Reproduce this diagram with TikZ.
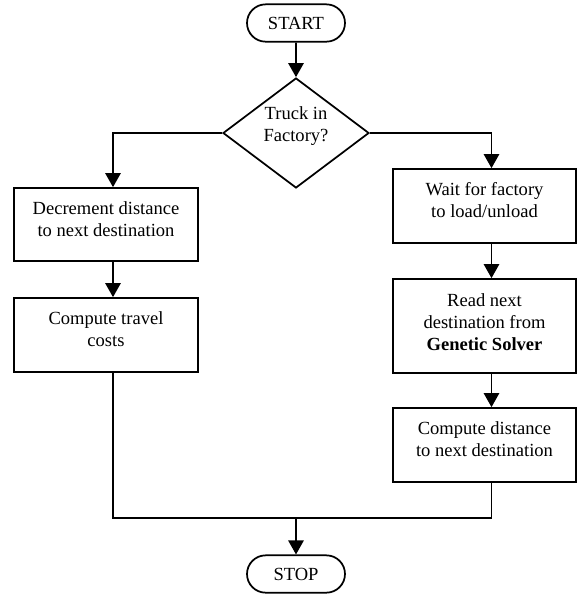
\documentclass[tikz,border=0pt]{standalone}
\usepackage{fontspec}
\setmainfont{Liberation Serif}
\usetikzlibrary{shapes.geometric,shapes.misc,arrows.meta,calc}
\begin{document}
\begin{tikzpicture}[x=0.75pt,y=-0.75pt,
  font=\fontsize{13.9}{16.5}\selectfont,
  lw/.style={line width=1.3pt},
  box/.style={draw, lw, rectangle, minimum width=138pt, inner sep=0pt},
  term/.style={draw, lw, rounded rectangle, minimum width=73.5pt, minimum height=28pt, inner sep=0pt},
  decis/.style={draw, lw, diamond, aspect=1.327, minimum width=109.5pt, minimum height=82.5pt, inner sep=0pt},
  txt/.style={align=center, inner sep=0pt, anchor=north},
  conn/.style={lw, -{Triangle[length=10.5pt,width=11.5pt]}},
  plain/.style={lw}]
\useasboundingbox (0,0) rectangle (578,594);

\node[term] (START) at (296,23) {START};
\node[decis] (D) at (296,133) {};
\node[align=center, inner sep=0pt] (Dt) at (296,126) {Truck in\\Factory?};

\node[box, minimum height=54.75pt] (L1) at (106,224.5) {};
\node[txt] (L1t) at ($(L1.north)+(0,14)$) {Decrement distance\\to next destination};
\node[box, minimum height=55.5pt] (L2) at (106,335) {};
\node[txt] (L2t) at ($(L2.north)+(0,14)$) {Compute travel\\costs};

\node[box, minimum width=137.25pt, minimum height=55.5pt] (R1) at (484.5,206) {};
\node[txt] (R1t) at ($(R1.north)+(0,14)$) {Wait for factory\\to load/unload};
\node[box, minimum width=137.25pt, minimum height=70.5pt] (R2) at (484.5,326) {};
\node[txt] (R2t) at ($(R2.north)+(0,15)$) {Read next\\destination from\\\textbf{Genetic Solver}};
\node[box, minimum width=137.25pt, minimum height=55.5pt] (R3) at (484.5,445) {};
\node[txt] (R3t) at ($(R3.north)+(0,14)$) {Compute distance\\to next destination};

\node[term] (STOP) at (296,574) {STOP};

\coordinate (J) at (296,518);

\draw[conn] (START) -- (D);
\draw[conn] (D.west) -| ($(L1.north)+(7,0)$);
\draw[conn] ($(L1.south)+(7,0)$) -- ($(L2.north)+(7,0)$);
\draw[conn] (D.east) -| ($(R1.north)+(7,0)$);
\draw[conn] ($(R1.south)+(7,0)$) -- ($(R2.north)+(7,0)$);
\draw[conn] ($(R2.south)+(7,0)$) -- ($(R3.north)+(7,0)$);
\draw[plain] ($(L2.south)+(7,0)$) |- (J) -| ($(R3.south)+(7,0)$);
\draw[conn] (J) -- (STOP);
\end{tikzpicture}
\end{document}
